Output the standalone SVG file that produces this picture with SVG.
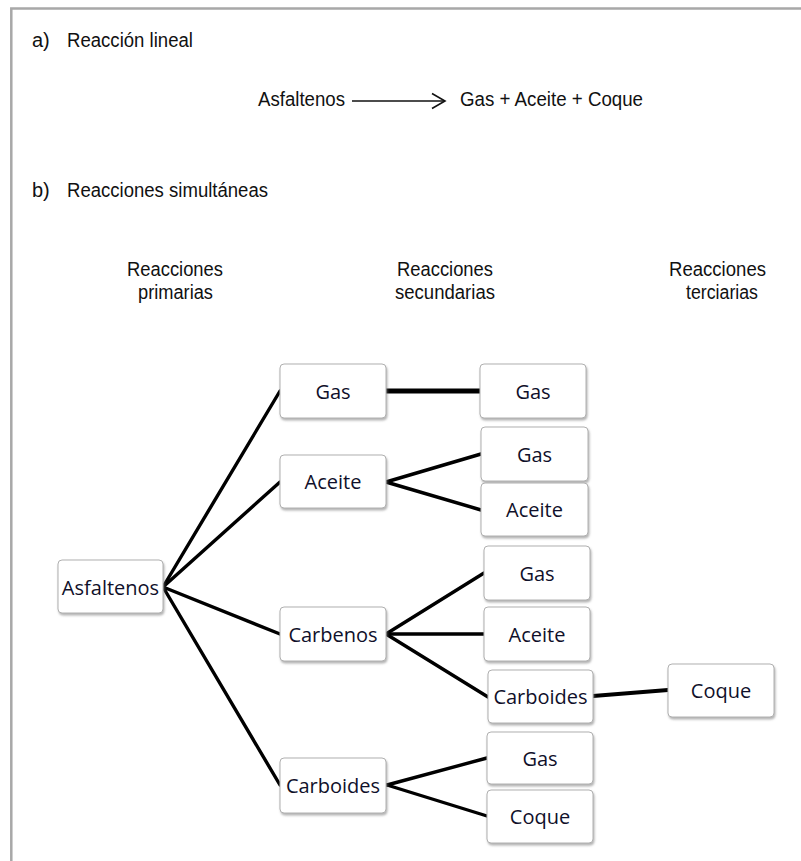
<svg xmlns="http://www.w3.org/2000/svg" width="801" height="861" viewBox="0 0 801 861">
<defs>
<filter id="sh" x="-10%" y="-10%" width="130%" height="140%">
<feDropShadow dx="1" dy="2" stdDeviation="1.2" flood-color="#808080" flood-opacity="0.6"/>
</filter>
<style>
.t{font-family:"Liberation Sans",Arial,sans-serif;font-size:20px;fill:#111}
.box rect{fill:#fff;stroke:#b0b0b0;stroke-width:1;filter:url(#sh)}
.box text{font-family:"Open Sans","Noto Sans",sans-serif;font-size:20px;fill:#10102a;text-anchor:middle}
.c line{stroke:#000;stroke-width:3.4;stroke-linecap:round}
</style>
</defs>
<rect width="801" height="861" fill="#fff"/>
<path d="M11.3,861 V8.5 H801" fill="none" stroke="#a8a8a8" stroke-width="2.5"/>

<text class="t" x="32" y="47">a)</text>
<text class="t" x="67" y="47" textLength="126" lengthAdjust="spacingAndGlyphs">Reacción lineal</text>
<text class="t" x="258" y="106" textLength="87" lengthAdjust="spacingAndGlyphs">Asfaltenos</text>
<g id="arrow" fill="none" stroke="#111" stroke-width="1.6">
<line x1="352" y1="101" x2="445" y2="101"/>
<polyline points="432,93.5 445,101 432,108.5"/>
</g>
<text class="t" x="460" y="106" textLength="183" lengthAdjust="spacingAndGlyphs">Gas + Aceite + Coque</text>

<text class="t" x="32" y="197">b)</text>
<text class="t" x="67" y="197" textLength="201" lengthAdjust="spacingAndGlyphs">Reacciones simultáneas</text>

<text class="t" x="127" y="276" textLength="96" lengthAdjust="spacingAndGlyphs">Reacciones</text>
<text class="t" x="138" y="299" textLength="75" lengthAdjust="spacingAndGlyphs">primarias</text>
<text class="t" x="397" y="276" textLength="96" lengthAdjust="spacingAndGlyphs">Reacciones</text>
<text class="t" x="395" y="299" textLength="100" lengthAdjust="spacingAndGlyphs">secundarias</text>
<text class="t" x="669" y="276" textLength="97" lengthAdjust="spacingAndGlyphs">Reacciones</text>
<text class="t" x="686" y="299" textLength="72" lengthAdjust="spacingAndGlyphs">terciarias</text>

<g id="connectors" class="c">
<line x1="163" y1="587" x2="280" y2="391"/>
<line x1="163" y1="587" x2="280" y2="482"/>
<line x1="163" y1="587" x2="280" y2="634"/>
<line x1="163" y1="587" x2="280" y2="785"/>
<line x1="386" y1="391" x2="480" y2="391" style="stroke-width:5"/>
<line x1="386" y1="482" x2="481" y2="454"/>
<line x1="386" y1="482" x2="481" y2="510"/>
<line x1="386" y1="634" x2="484" y2="573"/>
<line x1="386" y1="634" x2="484" y2="634"/>
<line x1="386" y1="634" x2="488" y2="697"/>
<line x1="593" y1="696" x2="668" y2="690" style="stroke-width:4"/>
<line x1="387" y1="785" x2="487" y2="758"/>
<line x1="387" y1="785" x2="487" y2="816"/>
</g>

<g id="n-asfaltenos" class="box"><rect x="58" y="560" width="105" height="53" rx="4"/><text x="110.5" y="594.5">Asfaltenos</text></g>
<g id="n-gas1" class="box"><rect x="280" y="364" width="106" height="54" rx="4"/><text x="333" y="398.5">Gas</text></g>
<g id="n-aceite1" class="box"><rect x="280" y="455" width="106" height="53" rx="4"/><text x="333" y="489">Aceite</text></g>
<g id="n-carbenos" class="box"><rect x="280" y="607" width="106" height="54" rx="4"/><text x="333" y="641.5">Carbenos</text></g>
<g id="n-carboides1" class="box"><rect x="280" y="758" width="106" height="55" rx="4"/><text x="333" y="793">Carboides</text></g>
<g id="n-gas2" class="box"><rect x="480" y="364" width="106" height="54" rx="4"/><text x="533" y="398.5">Gas</text></g>
<g id="n-gas3" class="box"><rect x="481" y="427" width="107" height="54" rx="4"/><text x="534.5" y="461.5">Gas</text></g>
<g id="n-aceite3" class="box"><rect x="481" y="483" width="107" height="53" rx="4"/><text x="534.5" y="517">Aceite</text></g>
<g id="n-gas4" class="box"><rect x="484" y="546" width="106" height="54" rx="4"/><text x="537" y="580.5">Gas</text></g>
<g id="n-aceite4" class="box"><rect x="484" y="607" width="106" height="54" rx="4"/><text x="537" y="641.5">Aceite</text></g>
<g id="n-carboides4" class="box"><rect x="488" y="670" width="105" height="53" rx="4"/><text x="540.5" y="704">Carboides</text></g>
<g id="n-coque3" class="box"><rect x="668" y="664" width="106" height="53" rx="4"/><text x="721" y="698">Coque</text></g>
<g id="n-gas5" class="box"><rect x="487" y="732" width="106" height="52" rx="4"/><text x="540" y="765.5">Gas</text></g>
<g id="n-coque5" class="box"><rect x="487" y="790" width="106" height="53" rx="4"/><text x="540" y="824">Coque</text></g>
</svg>
